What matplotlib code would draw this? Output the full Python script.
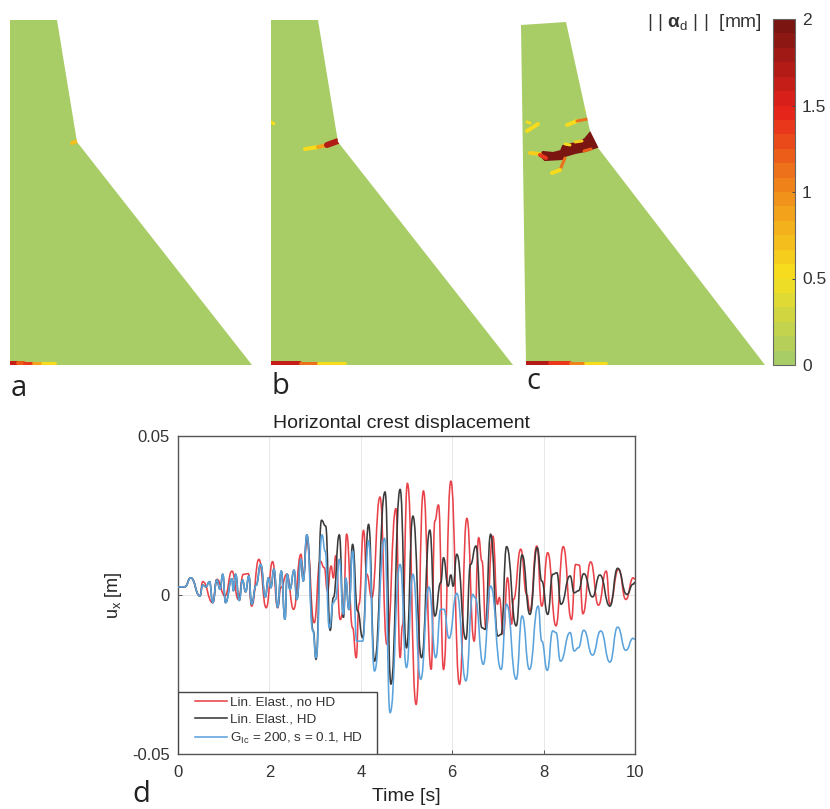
import matplotlib
matplotlib.use("Agg")
from matplotlib import pyplot as plt
from matplotlib.cm import ScalarMappable
from matplotlib.colors import LinearSegmentedColormap, Normalize
from matplotlib.lines import Line2D
from matplotlib.patches import PathPatch, Polygon, Rectangle
from matplotlib.path import Path

plt.rcParams["font.family"] = ["Liberation Sans", "DejaVu Sans"]
plt.rcParams["mathtext.fontset"] = "custom"
plt.rcParams["mathtext.rm"] = "Liberation Sans"
plt.rcParams["mathtext.bf"] = "Liberation Sans:bold"

# Crest displacement (mostly the peaks and troughs)
start_t = [0.00, 0.15, 0.28, 0.48]
start_u = [0.0025, 0.0026, 0.0054, -0.0003]

red_t = start_t + [0.54, 0.76, 0.85, 1.03, 1.18, 1.32, 1.43, 1.54, 1.61, 1.77, 1.93, 2.07, 2.18, 2.25, 2.38, 2.53,
                   2.69, 2.74, 2.82, 2.98, 3.11, 3.20, 3.27, 3.35, 3.40, 3.45, 3.55, 3.62, 3.69, 3.82, 3.90, 3.96,
                   4.06, 4.13, 4.24, 4.42, 4.57, 4.77, 4.86, 4.91, 5.02, 5.21, 5.37, 5.54, 5.62, 5.70, 5.81, 5.97,
                   6.16, 6.32, 6.48, 6.58, 6.65, 6.74, 6.89, 6.99, 7.03, 7.12, 7.21, 7.30, 7.34, 7.50, 7.63, 7.70,
                   7.85, 7.96, 8.09, 8.27, 8.43, 8.61, 8.70, 8.78, 8.86, 9.03, 9.20, 9.37, 9.45, 9.64, 9.80, 9.96, 10.0]
red_u = start_u + [0.0042, -0.0024, 0.0049, -0.0003, 0.0075, -0.0014, 0.0065, 0.0067, -0.0035, 0.0112, -0.0040, 0.0105,
                   -0.0040, 0.0023, 0.0065, -0.0045, 0.0128, 0.0054, 0.0170, -0.0087, 0.0107, 0.0086, 0.0013, 0.0091,
                   0.0054, 0.0123, -0.0077, -0.0050, 0.0191, -0.0103, -0.0197, -0.0029, 0.0203, 0.0065, -0.0008, 0.0308,
                   -0.0155, 0.0272, -0.0197, -0.0097, 0.0351, -0.0344, 0.0327, -0.0234, 0.0233, 0.0283, -0.0234, 0.0358,
                   -0.0281, 0.0241, -0.0145, 0.0180, 0.0107, -0.0108, 0.0185, -0.0029, -0.0008, -0.0124, 0.0054, -0.0092,
                   -0.0014, 0.0144, 0.0002, -0.0050, 0.0154, -0.0035, 0.0133, -0.0097, 0.0152, -0.0077, 0.0096, 0.0094,
                   -0.0059, 0.0104, -0.0032, 0.0075, -0.0029, 0.0081, -0.0014, 0.0054, 0.0050]

early_t = start_t + [0.54, 0.61, 0.69, 0.76, 0.85, 0.92, 0.98, 1.04, 1.18, 1.21, 1.26, 1.34, 1.41, 1.48, 1.55, 1.61, 1.71,
                     1.81, 1.91, 1.98, 2.03, 2.10, 2.18, 2.26, 2.34, 2.39, 2.45, 2.54, 2.60, 2.69, 2.74, 2.82]
early_u = start_u + [0.0031, 0.0026, 0.0042, -0.0024, 0.0047, 0.0018, 0.0065, -0.0024, 0.0051, 0.0013, 0.0065, -0.0017,
                     0.0047, 0.0010, 0.0060, -0.0029, 0.0031, 0.0096, -0.0006, 0.0054, 0.0023, 0.0081, -0.0038, 0.0075,
                     -0.0077, 0.0065, 0.0018, 0.0078, -0.0014, 0.0112, 0.0044, 0.0189]

black_t = early_t + [2.96, 3.02, 3.14, 3.23, 3.33, 3.40, 3.53, 3.62, 3.67, 3.74, 3.82, 3.93, 4.04, 4.17, 4.30, 4.53, 4.66,
                     4.86, 5.00, 5.14, 5.33, 5.51, 5.62, 5.75, 5.81, 5.91, 5.97, 6.02, 6.10, 6.30, 6.40, 6.52, 6.65, 6.72,
                     6.84, 7.00, 7.07, 7.19, 7.40, 7.53, 7.70, 7.86, 7.96, 8.09, 8.20, 8.29, 8.38, 8.58, 8.67, 8.76, 8.88,
                     9.07, 9.23, 9.45, 9.62, 9.82, 9.96, 10.0]
black_u = early_u + [-0.0113, -0.0202, 0.0235, 0.0217, -0.0111, -0.0008, 0.0189, -0.0071, 0.0049, -0.0045, 0.0159, -0.0050,
                     -0.0134, 0.0222, -0.0208, 0.0324, -0.0280, 0.0332, -0.0166, 0.0248, -0.0197, 0.0204, -0.0066, 0.0039,
                     0.0117, 0.0028, 0.0063, 0.0028, 0.0128, -0.0139, 0.0096, 0.0154, -0.0103, -0.0108, 0.0191, -0.0129,
                     -0.0124, 0.0152, -0.0097, 0.0126, -0.0061, 0.0149, 0.0044, -0.0061, 0.0065, 0.0070, -0.0029, 0.0060,
                     0.0007, 0.0013, 0.0067, -0.0006, 0.0063, -0.0035, 0.0084, 0.0002, 0.0034, 0.0040]

blue_t = early_t + [2.95, 3.02, 3.15, 3.22, 3.31, 3.40, 3.45, 3.53, 3.62, 3.67, 3.74, 3.82, 3.91, 4.04, 4.17, 4.30, 4.52, 4.64,
                    4.86, 5.00, 5.14, 5.31, 5.49, 5.64, 5.75, 5.82, 5.93, 6.10, 6.30, 6.45, 6.50, 6.68, 6.84, 7.07, 7.19,
                    7.40, 7.53, 7.69, 7.88, 7.96, 8.08, 8.20, 8.27, 8.37, 8.58, 8.67, 8.76, 8.88, 9.07, 9.25, 9.45, 9.62,
                    9.80, 9.96, 10.0]
blue_u = early_u + [-0.0113, -0.0197, 0.0189, 0.0138, -0.0103, -0.0024, -0.0014, 0.0112, -0.0061, 0.0054, -0.0045, 0.0138,
                    -0.0145, -0.0145, 0.0170, -0.0239, 0.0178, -0.0370, 0.0096, -0.0228, 0.0065, -0.0265, 0.0025, -0.0197,
                    -0.0045, -0.0045, -0.0136, 0.0005, -0.0270, 0.0002, -0.0008, -0.0218, 0.0028, -0.0234, -0.0029, -0.0265,
                    -0.0066, -0.0234, -0.0035, -0.0145, -0.0237, -0.0113, -0.0118, -0.0208, -0.0118, -0.0176, -0.0166, -0.0111,
                    -0.0189, -0.0113, -0.0211, -0.0101, -0.0174, -0.0136, -0.0140]

x_ticks = [0, 2, 4, 6, 8, 10]
y_ticks = [-0.05, 0, 0.05]
y_tick_labels = ["-0.05", "0", "0.05"]
bar_ticks = [0, 0.5, 1, 1.5, 2]
bar_tick_labels = ["0", "0.5", "1", "1.5", "2"]
legend_labels = ["Lin. Elast., no HD", "Lin. Elast., HD", r"G$_{\mathrm{Ic}}$ = 200, s = 0.1, HD"]
line_colors = ["#e8434a", "#3a3a3a", "#5ba3dc"]

# Dam outlines
dam_a = [(10, 20), (57, 20), (77, 142), (252, 365), (10, 365)]
dam_b = [(271, 20), (318, 20), (338, 142), (513, 365), (271, 365)]
dam_c = [(521, 25), (566, 22), (592, 140), (765, 365), (526, 365)]

# Damaged zones: (x list, y list, damage in mm, width)
cracks_a = [([72, 78], [143, 141], 0.7, 4),
            ([10, 18], [362.5, 362.5], 1.6, 4), ([18, 24], [362.5, 362.5], 1.2, 4), ([24, 33], [362.5, 362.5], 1.4, 3),
            ([33, 42], [363, 363], 0.9, 3), ([42, 55], [363, 363], 0.5, 3)]
cracks_b = [([271, 274], [122, 124], 0.5, 3),
            ([305, 318], [149, 147], 0.5, 4), ([318, 328], [147, 145], 0.9, 4), ([327, 338], [145, 141], 1.7, 6),
            ([271, 300], [362.5, 362.5], 1.6, 4), ([300, 318], [362.5, 362.5], 1.1, 3), ([318, 345], [363, 363], 0.5, 3)]
cracks_c = [([527, 530], [122, 123], 0.5, 3), ([527, 538], [131, 124], 0.5, 4),
            ([567, 577], [125, 121], 0.5, 4), ([577, 588], [121, 119], 1.1, 3), ([585, 587], [109, 112], 0.4, 2),
            ([530, 540], [153, 154], 0.6, 4), ([540, 546], [155, 158], 1.4, 4),
            ([565, 560], [158, 170], 1.1, 3), ([560, 552], [170, 173], 0.5, 4),
            ([565, 570], [144, 145], 0.5, 3), ([575, 582], [142, 141], 0.6, 3), ([584, 591], [151, 149], 1.2, 3),
            ([526, 550], [362.5, 362.5], 1.7, 4), ([550, 570], [362.5, 362.5], 1.4, 4), ([570, 585], [362.5, 362.5], 1.0, 3),
            ([585, 606], [363, 363], 0.5, 3)]
core_c = [(590, 133), (597, 147), (585, 151), (575, 153), (565, 156), (562, 159), (545, 160), (540, 155), (543, 152),
          (553, 153), (561, 151), (563, 146), (580, 142), (585, 139)]

cmap = LinearSegmentedColormap.from_list(
    "damage", ["#a8cc66", "#f7e01e", "#f08c1a", "#e6201a", "#7a1512"], N=24)
norm = Normalize(0, 2)
GREEN = "#a8cc66"


def smooth_path(ts, us):
    # bezier through the read points, flat at each one since they are peaks
    verts = [(ts[0], us[0])]
    codes = [Path.MOVETO]
    for i in range(1, len(ts)):
        mid = (ts[i - 1] + ts[i]) / 2
        verts += [(mid, us[i - 1]), (mid, us[i]), (ts[i], us[i])]
        codes += [Path.CURVE4] * 3
    return Path(verts, codes)


fig = plt.figure(figsize=(8.3, 8.09), dpi=100)
W, H = 830, 809

# Top panels, drawn in picture coordinates
top = fig.add_axes([0, 0, 1, 1])
top.set_xlim(0, W)
top.set_ylim(H, 0)
top.axis("off")

for dam, cracks in [(dam_a, cracks_a), (dam_b, cracks_b), (dam_c, cracks_c)]:
    body = Polygon(dam, closed=True, facecolor=GREEN, edgecolor="none")
    top.add_patch(body)
    for xs, ys, val, w in cracks:
        ln, = top.plot(xs, ys, color=cmap(norm(val)), lw=w * 0.72, solid_capstyle="round")
        ln.set_clip_path(body)
top.add_patch(Polygon(core_c, closed=True, facecolor=cmap(norm(2)), edgecolor=cmap(norm(2)), lw=1.5))

for label, x, y in [("a", 11, 388), ("b", 271, 386), ("c", 526, 381), ("d", 132, 794)]:
    top.text(x, y, label, fontsize=21, family=["Open Sans", "DejaVu Sans"], color="#222222", ha="left", va="center")

top.text(647, 22, r"| | $\mathbf{\alpha}_{\mathrm{d}}$ | |  [mm]", fontsize=13.8, color="#333333", ha="left", va="center")

# Colour bar
cax = fig.add_axes([773 / W, 1 - 365 / H, 22 / W, 346 / H])
cb = fig.colorbar(ScalarMappable(norm=norm, cmap=cmap), cax=cax)
cb.set_ticks(bar_ticks)
cb.set_ticklabels(bar_tick_labels)
cb.ax.tick_params(direction="in", length=2, width=0.7, labelsize=12.5, labelcolor="#333333", color="#444444", pad=5)
cb.outline.set_edgecolor("#666666")
cb.outline.set_linewidth(0.8)

# Displacement plot
ax = fig.add_axes([178 / W, 1 - 754 / H, 457 / W, 318 / H])
for ts, us, c in [(red_t, red_u, line_colors[0]), (black_t, black_u, line_colors[1]), (blue_t, blue_u, line_colors[2])]:
    ax.add_patch(PathPatch(smooth_path(ts, us), facecolor="none", edgecolor=c, lw=1.15, zorder=3))
ax.set_xlim(0, 10)
ax.set_ylim(-0.05, 0.05)
ax.set_xticks(x_ticks)
ax.set_yticks(y_ticks)
ax.set_yticklabels(y_tick_labels)
ax.grid(True, color="#e8e8e8", lw=0.7)
ax.set_axisbelow(True)
ax.tick_params(direction="in", length=3, width=0.7, labelsize=12, labelcolor="#333333", color="#555555")
ax.tick_params(axis="x", pad=8)
ax.tick_params(axis="y", pad=6)
for s in ax.spines.values():
    s.set_color("#555555")
    s.set_linewidth(1.0)
ax.set_title("Horizontal crest displacement", fontsize=14, color="#222222", pad=6, x=0.488)
ax.set_xlabel("Time [s]", fontsize=14, color="#222222", labelpad=6)
ax.set_ylabel(r"u$_{\mathrm{x}}$ [m]", fontsize=13, color="#222222")
ax.yaxis.set_label_coords(-54 / 457, 0.5)

# Legend box, square and tucked in the corner
ax.add_patch(Rectangle((0, 0), 199 / 457, 62 / 318, transform=ax.transAxes, facecolor="white",
                       edgecolor="#444444", lw=1.0, zorder=4))
handles = [Line2D([], [], color=c, lw=1.15) for c in line_colors]
leg = ax.legend(handles, legend_labels, loc="upper left", bbox_to_anchor=(17 / 457, 58 / 318), borderaxespad=0,
                borderpad=0, fontsize=9.7, frameon=False, handlelength=2.4, handletextpad=0.2, labelspacing=0.36)
leg.set_zorder(5)
for t in leg.get_texts():
    t.set_color("#333333")

fig.savefig("out.png", dpi=100)
